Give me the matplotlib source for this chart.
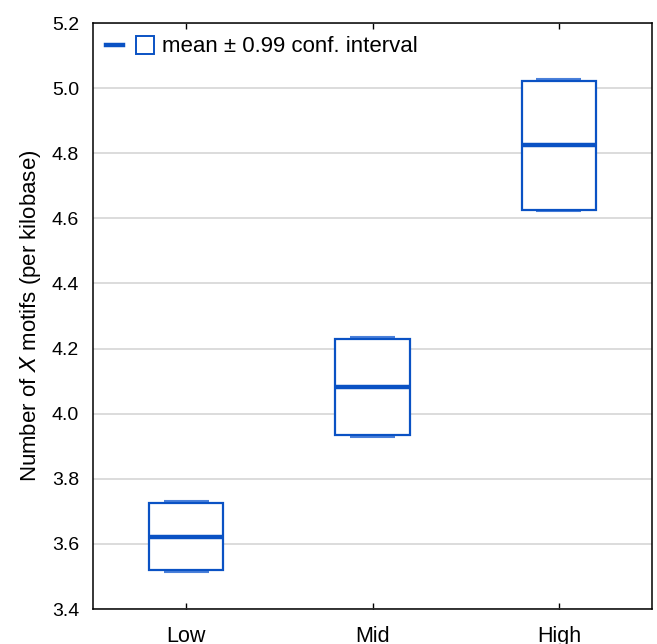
import matplotlib
matplotlib.use("Agg")
import matplotlib.pyplot as plt
from matplotlib.lines import Line2D
from matplotlib.legend_handler import HandlerTuple

plt.rcParams['font.family'] = ['Liberation Sans', 'DejaVu Sans']

categories = ["Low", "Mid", "High"]
means = [3.621, 4.082, 4.825]
box_low = [3.520, 3.934, 4.626]
box_high = [3.726, 4.229, 5.022]
cap_low = [3.514, 3.929, 4.622]
cap_high = [3.731, 4.234, 5.028]

blue = '#0a52c4'
capblue = '#4a80da'

fig = plt.figure(figsize=(6.57, 6.44), dpi=100)
ax = fig.add_axes([93/657, 35/644, 559/657, 586/644])

xs = list(range(1, len(categories) + 1))
bw = 0.4
cw = 0.2
ax.bar(xs, [h - l for h, l in zip(box_high, box_low)], bottom=box_low, width=bw,
       facecolor='white', edgecolor=blue, linewidth=1.6, zorder=3)
for x, m, cl, ch in zip(xs, means, cap_low, cap_high):
    ax.hlines([cl, ch], x - cw/2 - 0.02, x + cw/2 + 0.02, color=capblue, linewidth=1.5, zorder=2)
    ax.hlines(m, x - bw/2, x + bw/2, color=blue, linewidth=3.2, zorder=4)

ax.set_xlim(0.5, 3.5)
ax.set_ylim(3.4, 5.2)
ax.set_yticks([3.4 + 0.2*i for i in range(10)])
ax.set_yticklabels([f"{3.4 + 0.2*i:.1f}" for i in range(10)])
ax.set_xticks(xs)
ax.set_xticklabels(categories)
ax.yaxis.grid(True, color='#d9d9d9', linewidth=1.3, zorder=0)
ax.set_axisbelow(True)
ax.tick_params(axis='y', length=0, pad=10, labelsize=14)
ax.tick_params(axis='x', direction='in', length=4, top=True, width=1, pad=12, labelsize=15.5)
for s in ax.spines.values():
    s.set_linewidth(1.1)
    s.set_color('black')

ax.set_ylabel(r"Number of $\it{X}$ motifs (per kilobase)", fontsize=16, labelpad=6)

h_line = Line2D([], [], color=blue, linewidth=3.2)
h_box = Line2D([], [], color=blue, marker='s', markersize=13, markerfacecolor='white',
               markeredgewidth=1.4, linestyle='None')
ax.legend([(h_line, h_box)], ["mean ± 0.99 conf. interval"],
          handler_map={tuple: HandlerTuple(ndivide=None, pad=0.6)},
          loc='upper left', frameon=False, fontsize=16, handlelength=2.1,
          borderaxespad=0.3, handletextpad=0.4, borderpad=0.3)

fig.savefig("out.png", dpi=100)
